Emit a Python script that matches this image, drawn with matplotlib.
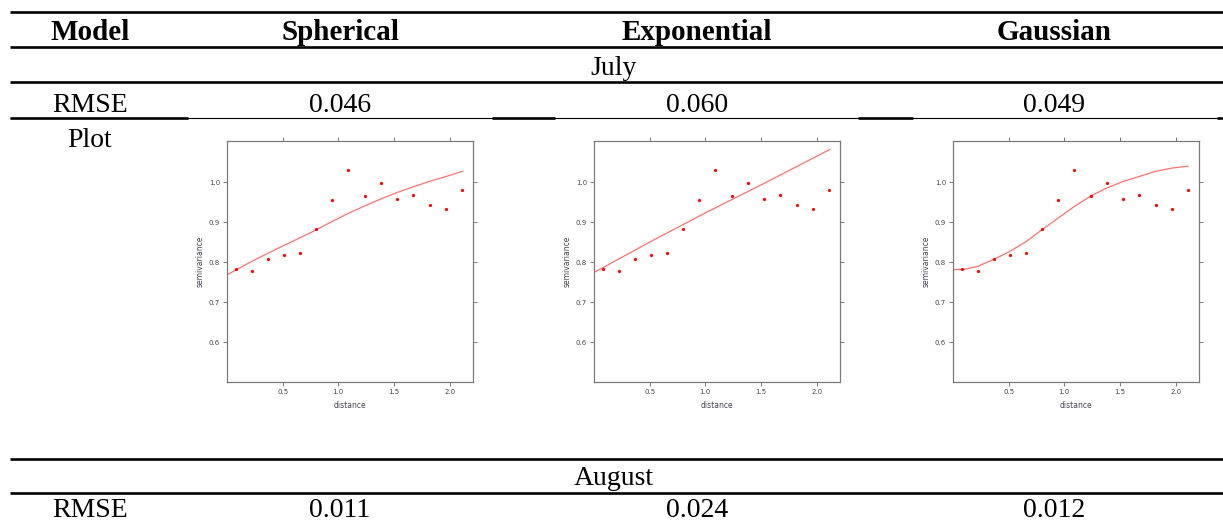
import matplotlib
matplotlib.use("Agg")
import matplotlib.pyplot as plt

# =====================================================
# DATA
# =====================================================

models = ["Spherical", "Exponential", "Gaussian"]
months = ["July", "August"]
rmse_july = ["0.046", "0.060", "0.049"]
rmse_august = ["0.011", "0.024", "0.012"]

# empirical semivariogram (July), same in all three panels
dist = [0.078, 0.224, 0.367, 0.514, 0.657, 0.804, 0.947, 1.090,
        1.240, 1.383, 1.527, 1.670, 1.820, 1.966, 2.115]
gamma = [0.783, 0.777, 0.808, 0.819, 0.822, 0.883, 0.955, 1.030,
         0.965, 0.997, 0.958, 0.969, 0.944, 0.934, 0.981]

# fitted model curves
sph_x = [0.0, 0.224, 0.367, 0.514, 0.657, 0.804, 0.947, 1.090,
         1.240, 1.383, 1.527, 1.670, 1.820, 1.966, 2.115]
sph_y = [0.768, 0.802, 0.822, 0.842, 0.861, 0.881, 0.902, 0.922,
         0.941, 0.958, 0.974, 0.988, 1.002, 1.014, 1.027]

exp_x = [0.0, 0.5, 1.0, 1.5, 2.12]
exp_y = [0.774, 0.850, 0.923, 0.993, 1.082]

gau_x = [0.0, 0.10, 0.22, 0.36, 0.50, 0.65, 0.80, 0.944,
         1.09, 1.24, 1.38, 1.53, 1.67, 1.82, 1.96, 2.11]
gau_y = [0.781, 0.782, 0.789, 0.806, 0.825, 0.850, 0.881, 0.910,
         0.939, 0.966, 0.985, 1.002, 1.014, 1.027, 1.035, 1.040]

curves = [(sph_x, sph_y), (exp_x, exp_y), (gau_x, gau_y)]

# =====================================================
# FIGURE
# =====================================================

W, H = 1223, 524

fig = plt.figure(figsize=(W / 100, H / 100), dpi=100)

bg = fig.add_axes([0, 0, 1, 1])
bg.set_xlim(0, W)
bg.set_ylim(H, 0)
bg.axis("off")

SERIF = "Liberation Serif"

col_x = [90, 340, 697, 1054]
mid_x = 614

# table rules
thick = 1.9
thin = 0.8
for y in [12, 47, 82, 459, 493]:
    bg.plot([10, W], [y, y], color="black", lw=thick,
            solid_capstyle="butt")

bg.plot([10, W], [118, 118], color="black", lw=thin,
        solid_capstyle="butt")
for x0, x1 in [(10, 188), (492, 555), (858, 913), (1217, W)]:
    bg.plot([x0, x1], [118, 118], color="black", lw=thick,
            solid_capstyle="butt")

# header
bg.text(col_x[0], 40, "Model", ha="center", va="baseline",
        fontsize=21, fontweight="bold", family=SERIF)
for x, name in zip(col_x[1:], models):
    bg.text(x, 40, name, ha="center", va="baseline",
            fontsize=21, fontweight="bold", family=SERIF)

# July block
bg.text(mid_x, 75, months[0], ha="center", va="baseline",
        fontsize=20, family=SERIF)
bg.text(col_x[0], 112, "RMSE", ha="center", va="baseline",
        fontsize=20, family=SERIF)
for x, v in zip(col_x[1:], rmse_july):
    bg.text(x, 112, v, ha="center", va="baseline",
            fontsize=20, family=SERIF)
bg.text(col_x[0], 147, "Plot", ha="center", va="baseline",
        fontsize=20, family=SERIF)

# August block
bg.text(mid_x, 485, months[1], ha="center", va="baseline",
        fontsize=20, family=SERIF)
bg.text(col_x[0], 517, "RMSE", ha="center", va="baseline",
        fontsize=20, family=SERIF)
for x, v in zip(col_x[1:], rmse_august):
    bg.text(x, 517, v, ha="center", va="baseline",
            fontsize=20, family=SERIF)

# =====================================================
# SEMIVARIOGRAM PANELS
# =====================================================

panel_left = [227, 594, 953]
panel_w = 246
panel_top = 141
panel_h = 241

frame_col = "#7a7a7a"
text_col = "#444455"

for left, (cx, cy) in zip(panel_left, curves):

    ax = fig.add_axes([
        left / W,
        (H - panel_top - panel_h) / H,
        panel_w / W,
        panel_h / H
    ])

    ax.plot(cx, cy, color="#ff7070", lw=0.9)
    ax.plot(dist, gamma, "o", color="red", ms=2.3, mec="none")

    ax.set_xlim(0, 2.21)
    ax.set_ylim(0.5, 1.103)

    ax.set_xticks([0.5, 1.0, 1.5, 2.0])
    ax.set_yticks([0.6, 0.7, 0.8, 0.9, 1.0])

    ax.tick_params(
        direction="out",
        length=3,
        width=0.7,
        color=frame_col,
        labelcolor=text_col,
        labelsize=5,
        pad=2,
        top=True,
        right=True
    )

    for s in ax.spines.values():
        s.set_color(frame_col)
        s.set_linewidth(0.9)

    ax.set_xlabel("distance", fontsize=5.5, color=text_col, labelpad=4)
    ax.set_ylabel("semivariance", fontsize=5.5, color=text_col,
                  labelpad=3)

fig.savefig("out.png", dpi=100)
